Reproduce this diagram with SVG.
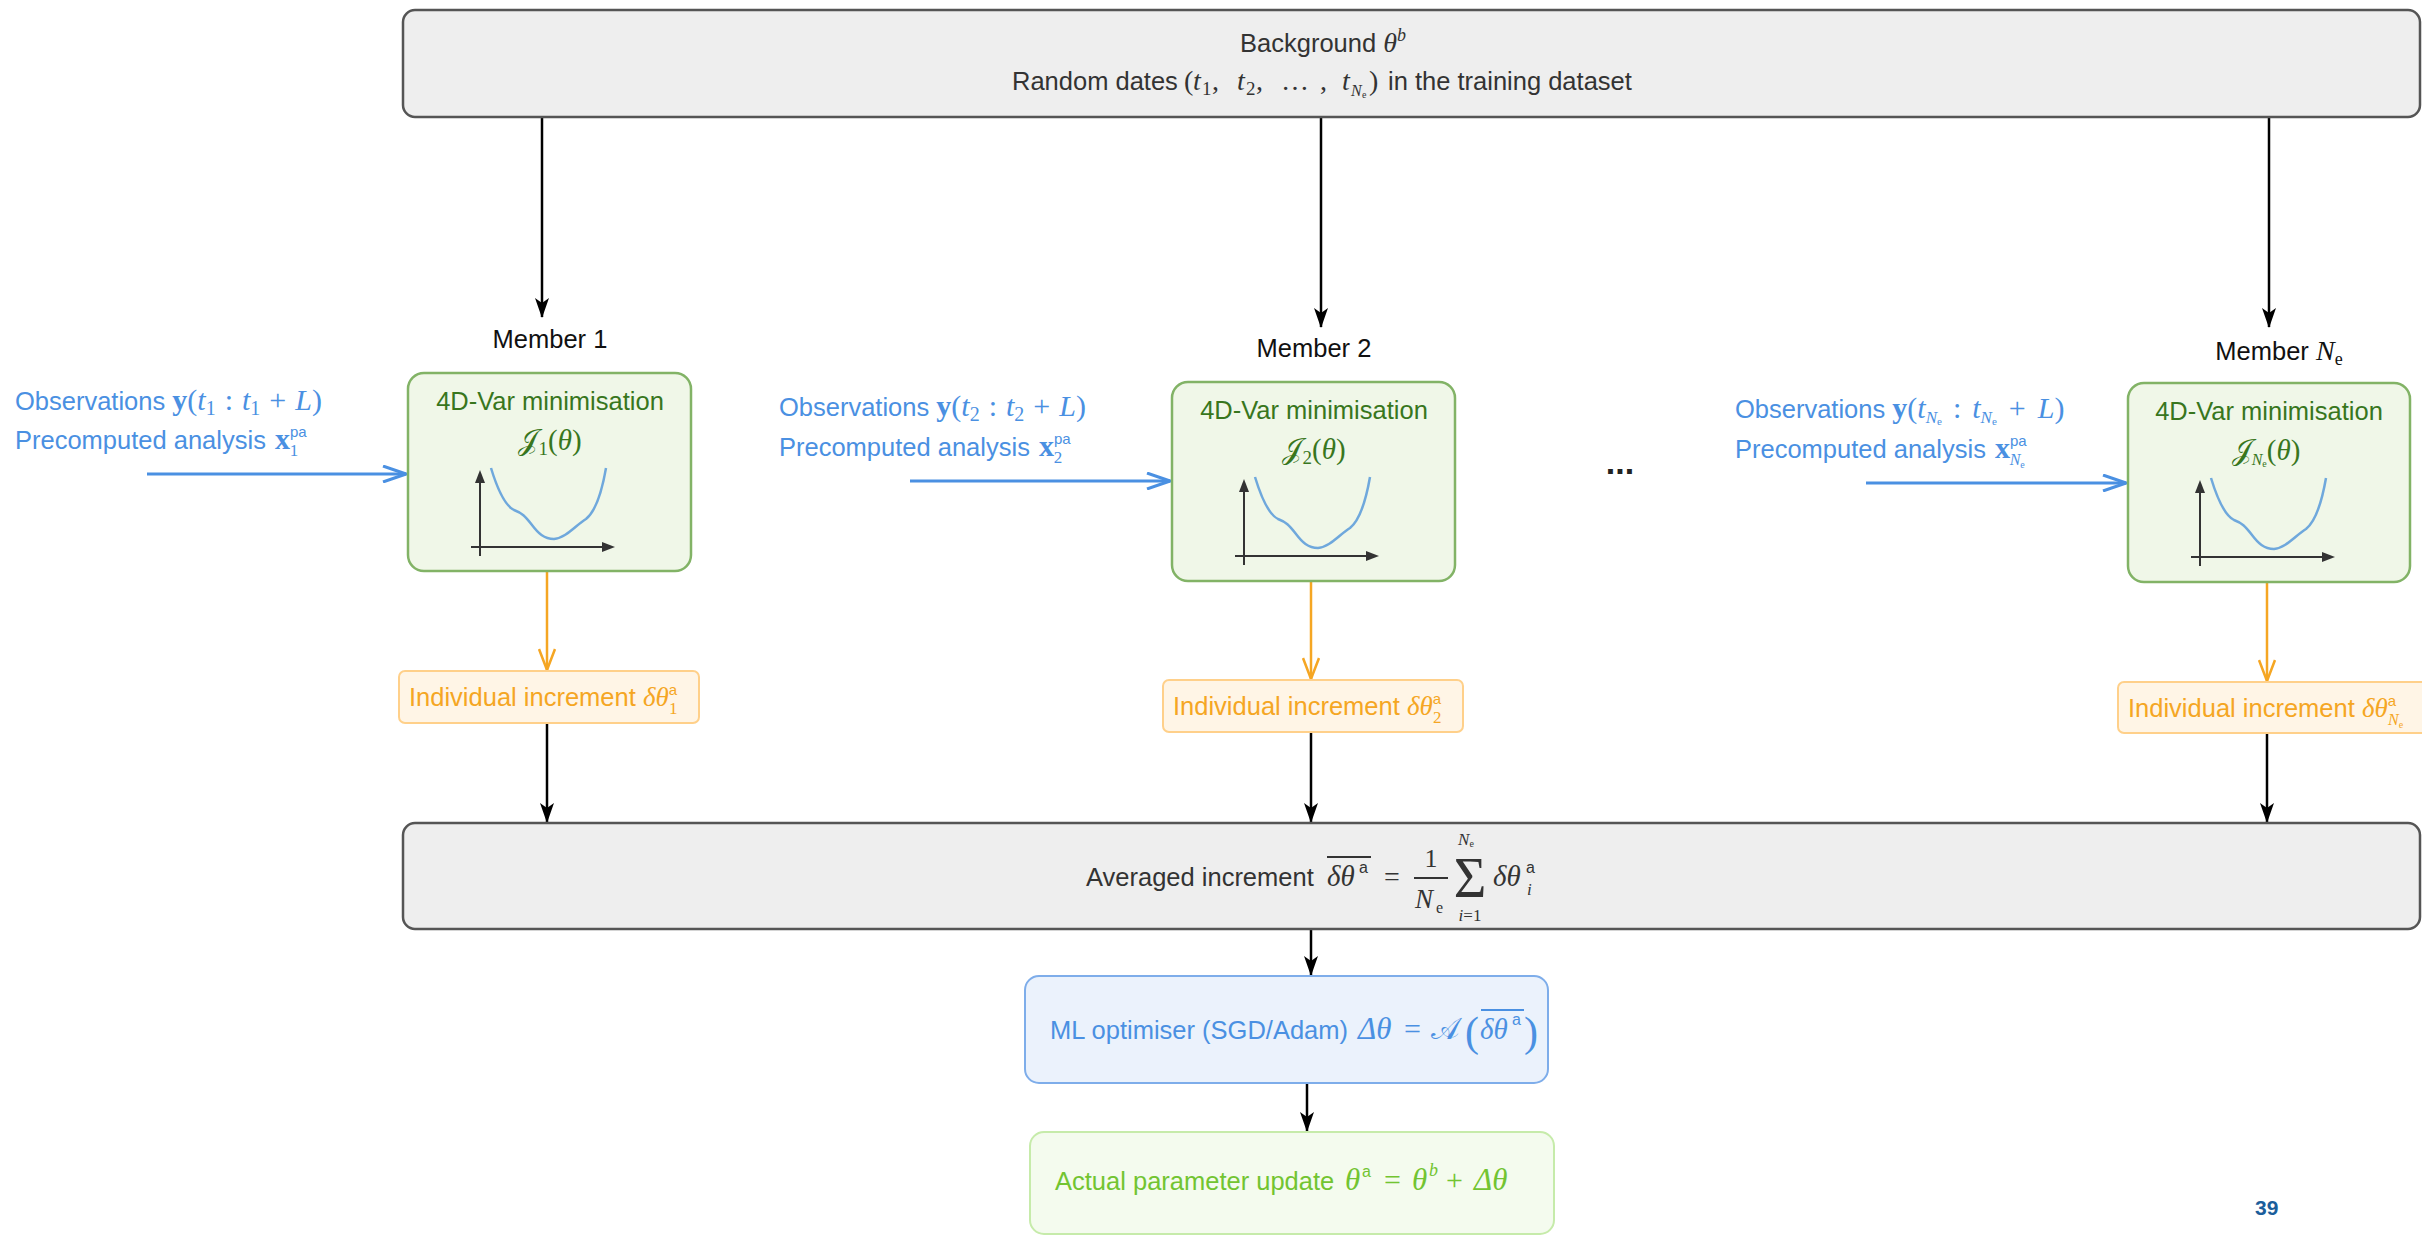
<svg xmlns="http://www.w3.org/2000/svg" width="2422" height="1236" viewBox="0 0 2422 1236">
<defs>
<style>
svg{font-family:"Liberation Sans",Arial,sans-serif;font-size:25.5px}
.m{font-family:"Liberation Serif","DejaVu Serif",serif}
.z{font-size:28px}
.q{font-size:30px}
.i{font-style:italic}
.b{font-weight:bold}
.gray{fill:#333}
.blk{fill:#111}
.bluet{fill:#4A90E2}
.green{fill:#38761D}
.orange{fill:#F5A623}
.lgreen{fill:#72C431}
.grayBox{fill:#EEEEEE;stroke:#555;stroke-width:2.5}
.memBox{fill:#F0F7E8;stroke:#82B366;stroke-width:2.5}
.incBox{fill:#FFF5E6;stroke:#FFD08A;stroke-width:2}
.mlBox{fill:#EBF2FC;stroke:#7EADEA;stroke-width:2}
.actBox{fill:#F4FBEE;stroke:#C6EBAA;stroke-width:2}
.k{stroke:#000;stroke-width:2.5;fill:none}
.o{stroke:#F5A623;stroke-width:2.5;fill:none}
.bl{stroke:#4A90E2;stroke-width:3;fill:none}
</style>
<marker id="ak" markerUnits="userSpaceOnUse" viewBox="0 0 20 14" refX="19" refY="7" markerWidth="20" markerHeight="14" orient="auto"><path d="M0,0 L20,7 L0,14 L5,7 z" fill="#000"/></marker>
<marker id="ao" markerUnits="userSpaceOnUse" viewBox="0 0 24 18" refX="22" refY="9" markerWidth="24" markerHeight="18" orient="auto"><path d="M1,1 L22,9 L1,17" fill="none" stroke="#F5A623" stroke-width="2.5"/></marker>
<marker id="ab" markerUnits="userSpaceOnUse" viewBox="0 0 26 18" refX="24" refY="9" markerWidth="26" markerHeight="18" orient="auto"><path d="M1,1 L24,9 L1,17" fill="none" stroke="#4A90E2" stroke-width="3"/></marker>
<g id="plot">
<path d="M72,183 V104" stroke="#333" stroke-width="2" fill="none"/>
<path d="M72,97 L67,110 L77,110 z" fill="#333"/>
<path d="M63,174 H198" stroke="#333" stroke-width="2" fill="none"/>
<path d="M207,174 L194,169 L194,179 z" fill="#333"/>
<path d="M83,95 C90,118 98,133 106,137 C114,140 117,143 124,152 C130,160 136,166 146,166 C158,165 168,152 178,146 C188,138 194,118 198,95" stroke="#6FA8DC" stroke-width="2.5" fill="none"/>
</g>
</defs>
<rect width="2422" height="1236" fill="#fff"/>

<g id="connectors">
<path class="k" d="M542,117 V317" marker-end="url(#ak)"/>
<path class="k" d="M1321,117 V327" marker-end="url(#ak)"/>
<path class="k" d="M2269,117 V327" marker-end="url(#ak)"/>
<path class="bl" d="M147,474 H406" marker-end="url(#ab)"/>
<path class="bl" d="M910,481 H1170" marker-end="url(#ab)"/>
<path class="bl" d="M1866,483 H2126" marker-end="url(#ab)"/>
<path class="o" d="M547,571 V670" marker-end="url(#ao)"/>
<path class="o" d="M1311,581 V679" marker-end="url(#ao)"/>
<path class="o" d="M2267,583 V681" marker-end="url(#ao)"/>
<path class="k" d="M547,723 V822" marker-end="url(#ak)"/>
<path class="k" d="M1311,732 V822" marker-end="url(#ak)"/>
<path class="k" d="M2267,733 V822" marker-end="url(#ak)"/>
<path class="k" d="M1311,929 V975" marker-end="url(#ak)"/>
<path class="k" d="M1307,1083 V1131" marker-end="url(#ak)"/>
</g>

<g id="background">
<rect class="grayBox" x="403" y="10" width="2017" height="107" rx="12"/>
<text class="gray" x="1323" y="52" text-anchor="middle">Background <tspan class="m z i">θ</tspan><tspan class="m i" font-size="18" dy="-11">b</tspan></text>
<text class="gray" y="90"><tspan x="1012">Random dates</tspan><tspan class="m z" x="1184">(</tspan><tspan class="m z i" x="1193">t</tspan><tspan class="m" font-size="19" x="1202" y="95">1</tspan><tspan class="m z" x="1212" y="90">,</tspan><tspan class="m z i" x="1237">t</tspan><tspan class="m" font-size="19" x="1246" y="95">2</tspan><tspan class="m z" x="1256" y="90">,</tspan><tspan class="m z" x="1281">…</tspan><tspan class="m z" x="1320">,</tspan><tspan class="m z i" x="1342">t</tspan><tspan class="m i" font-size="16" x="1351" y="96">N</tspan><tspan class="m" font-size="10" x="1362" y="98">e</tspan><tspan class="m z" x="1369" y="90">)</tspan><tspan x="1388">in the training dataset</tspan></text>
</g>

<g id="member1">
<text class="blk" x="550" y="348" text-anchor="middle">Member 1</text>
<rect class="memBox" x="408" y="373" width="283" height="198" rx="16"/>
<text class="green" x="550" y="410" text-anchor="middle">4D-Var minimisation</text>
<text class="green m" x="550" y="450" text-anchor="middle" font-size="29">𝒥<tspan font-size="19" dy="5">1</tspan><tspan dy="-5">(</tspan><tspan class="i">θ</tspan>)</text>
<use href="#plot" x="408" y="373"/>
</g>
<g id="obs1" class="bluet">
<text x="15" y="410">Observations <tspan class="m q b">y</tspan><tspan class="m q">(</tspan><tspan class="m q i">t</tspan><tspan class="m" font-size="20" dy="5">1</tspan><tspan class="m q" dx="9" dy="-5">:</tspan><tspan class="m q i" dx="9">t</tspan><tspan class="m" font-size="20" dy="5">1</tspan><tspan class="m q" dx="9" dy="-5">+</tspan><tspan class="m q i" dx="9">L</tspan><tspan class="m q">)</tspan></text>
<text x="15" y="449">Precomputed analysis <tspan class="m q b" dx="2">x</tspan><tspan font-size="15" dy="-12">pa</tspan><tspan class="m" font-size="17" dx="-17" dy="19">1</tspan></text>
</g>

<g id="member2">
<text class="blk" x="1314" y="357" text-anchor="middle">Member 2</text>
<rect class="memBox" x="1172" y="382" width="283" height="199" rx="16"/>
<text class="green" x="1314" y="419" text-anchor="middle">4D-Var minimisation</text>
<text class="green m" x="1314" y="459" text-anchor="middle" font-size="29">𝒥<tspan font-size="19" dy="5">2</tspan><tspan dy="-5">(</tspan><tspan class="i">θ</tspan>)</text>
<use href="#plot" x="1172" y="382"/>
</g>
<g id="obs2" class="bluet">
<text x="779" y="416">Observations <tspan class="m q b">y</tspan><tspan class="m q">(</tspan><tspan class="m q i">t</tspan><tspan class="m" font-size="20" dy="5">2</tspan><tspan class="m q" dx="9" dy="-5">:</tspan><tspan class="m q i" dx="9">t</tspan><tspan class="m" font-size="20" dy="5">2</tspan><tspan class="m q" dx="9" dy="-5">+</tspan><tspan class="m q i" dx="9">L</tspan><tspan class="m q">)</tspan></text>
<text x="779" y="456">Precomputed analysis <tspan class="m q b" dx="2">x</tspan><tspan font-size="15" dy="-12">pa</tspan><tspan class="m" font-size="17" dx="-17" dy="19">2</tspan></text>
</g>

<g id="dots"><text x="1620" y="474" text-anchor="middle" font-weight="bold" font-size="34" fill="#222">...</text></g>

<g id="memberNe">
<text class="blk" x="2279" y="360" text-anchor="middle">Member <tspan class="m z i">N</tspan><tspan class="m" font-size="18" dy="5">e</tspan></text>
<rect class="memBox" x="2128" y="383" width="282" height="199" rx="16"/>
<text class="green" x="2269" y="420" text-anchor="middle">4D-Var minimisation</text>
<text class="green m" x="2266" y="460" text-anchor="middle" font-size="29">𝒥<tspan class="i" font-size="16" dy="5">N</tspan><tspan font-size="10" dy="2">e</tspan><tspan dy="-7">(</tspan><tspan class="i">θ</tspan>)</text>
<use href="#plot" x="2128" y="383"/>
</g>
<g id="obsNe" class="bluet">
<text x="1735" y="418">Observations <tspan class="m q b">y</tspan><tspan class="m q">(</tspan><tspan class="m q i">t</tspan><tspan class="m i" font-size="17" dy="5">N</tspan><tspan class="m" font-size="11" dy="2">e</tspan><tspan class="m q" dx="11" dy="-7">:</tspan><tspan class="m q i" dx="11">t</tspan><tspan class="m i" font-size="17" dy="5">N</tspan><tspan class="m" font-size="11" dy="2">e</tspan><tspan class="m q" dx="12" dy="-7">+</tspan><tspan class="m q i" dx="12">L</tspan><tspan class="m q">)</tspan></text>
<text x="1735" y="458">Precomputed analysis <tspan class="m q b" dx="2">x</tspan><tspan font-size="15" dy="-12">pa</tspan><tspan class="m i" font-size="16" dx="-17" dy="19">N</tspan><tspan class="m" font-size="10" dy="3">e</tspan></text>
</g>

<g id="inc1">
<rect class="incBox" x="399" y="671" width="300" height="52" rx="6"/>
<text class="orange" x="409" y="706">Individual increment <tspan class="m i" font-size="27">δθ</tspan><tspan font-size="15" dy="-11">a</tspan><tspan class="m" font-size="17" dx="-8" dy="19">1</tspan></text>
</g>
<g id="inc2">
<rect class="incBox" x="1163" y="680" width="300" height="52" rx="6"/>
<text class="orange" x="1173" y="715">Individual increment <tspan class="m i" font-size="27">δθ</tspan><tspan font-size="15" dy="-11">a</tspan><tspan class="m" font-size="17" dx="-8" dy="19">2</tspan></text>
</g>
<g id="incNe">
<rect class="incBox" x="2118" y="682" width="330" height="51" rx="6"/>
<text class="orange" x="2128" y="717">Individual increment <tspan class="m i" font-size="27">δθ</tspan><tspan font-size="15" dy="-11">a</tspan><tspan class="m i" font-size="16" dx="-8" dy="19">N</tspan><tspan class="m" font-size="10" dy="3">e</tspan></text>
</g>

<g id="averaged">
<rect class="grayBox" x="403" y="823" width="2017" height="106" rx="12"/>
<text class="gray" x="1086" y="886">Averaged increment</text>
<text class="gray m i" x="1327" y="886" font-size="29">δθ</text>
<text class="gray" x="1359" y="873" font-size="16">a</text>
<line x1="1327" y1="857" x2="1371" y2="857" stroke="#333" stroke-width="2"/>
<text class="gray m" x="1384" y="886" font-size="28">=</text>
<text class="gray m" x="1431" y="867" text-anchor="middle" font-size="26">1</text>
<line x1="1414" y1="878" x2="1448" y2="878" stroke="#333" stroke-width="1.8"/>
<text class="gray m i" x="1415" y="908" font-size="27">N</text>
<text class="gray m" x="1436" y="913" font-size="16">e</text>
<text class="gray m i" x="1466" y="845" text-anchor="middle" font-size="17">N<tspan font-style="normal" font-size="10" dy="2">e</tspan></text>
<text class="gray m" x="1470" y="897" text-anchor="middle" font-size="56">Σ</text>
<text class="gray m" x="1470" y="921" text-anchor="middle" font-size="17"><tspan class="i">i</tspan>=1</text>
<text class="gray m i" x="1493" y="886" font-size="29">δθ</text>
<text class="gray" x="1526" y="873" font-size="16">a</text>
<text class="gray m i" x="1527" y="895" font-size="17">i</text>
</g>

<g id="optimiser">
<rect class="mlBox" x="1025" y="976" width="523" height="107" rx="14"/>
<text class="bluet" y="1039"><tspan x="1050">ML optimiser (SGD/Adam)</tspan><tspan class="m i" font-size="31" x="1358">Δθ</tspan><tspan class="m" font-size="30" x="1404">=</tspan><tspan class="m" font-size="30" x="1431">𝒜</tspan></text>
<text class="bluet m" x="1465" y="1046" font-size="42">(</text>
<text class="bluet m i" x="1480" y="1039" font-size="29">δθ</text>
<text class="bluet" x="1512" y="1025" font-size="16">a</text>
<line x1="1481" y1="1010" x2="1524" y2="1010" stroke="#4A90E2" stroke-width="2"/>
<text class="bluet m" x="1524" y="1046" font-size="42">)</text>
</g>

<g id="update">
<rect class="actBox" x="1030" y="1132" width="524" height="102" rx="14"/>
<text class="lgreen" y="1190"><tspan x="1055">Actual parameter update</tspan><tspan class="m i" font-size="31" x="1345">θ</tspan><tspan font-size="16" x="1362" y="1177">a</tspan><tspan class="m" font-size="30" x="1384" y="1190">=</tspan><tspan class="m i" font-size="31" x="1412">θ</tspan><tspan class="m i" font-size="18" x="1429" y="1176">b</tspan><tspan class="m" font-size="30" x="1446" y="1190">+</tspan><tspan class="m i" font-size="31" x="1474">Δθ</tspan></text>
</g>

<g id="page"><text x="2255" y="1215" font-weight="bold" font-size="21" fill="#1B5E9B">39</text></g>
</svg>
